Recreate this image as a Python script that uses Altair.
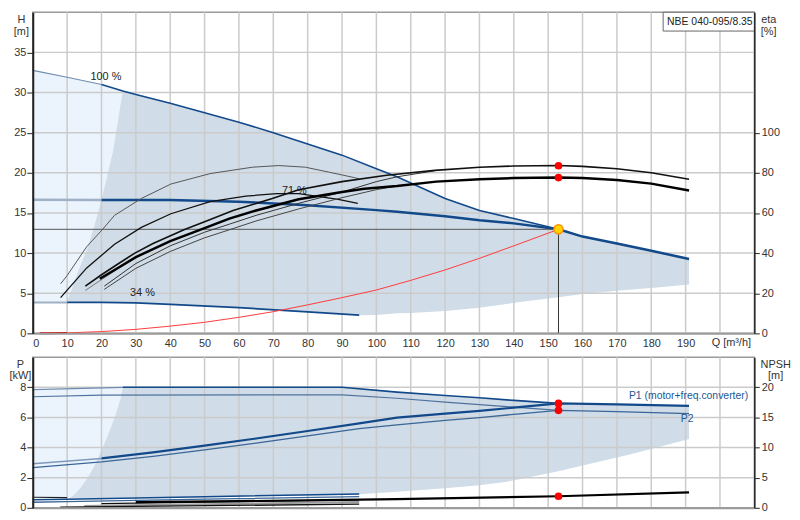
import altair as alt
import pandas as pd

FONT = "Liberation Sans"
W = 728
H_TOP = 324
H_BOT = 152

DARK_BLUE = "#12498a"
MID_BLUE = "#3a6698"
LIGHT_LINE = "#9fb1c6"
GRID = "#cbcbcb"
GRAY_FILL = "#d0dce7"
LIGHT_FILL = "#ebf4fd"

# ---------------- top chart: head H [m] ----------------
Q100_LIGHT = [0, 10, 20]
H100_LIGHT = [32.75, 31.9, 31.0]
Q100 = [20, 26.2, 30, 40, 60, 70, 80, 90, 100, 106, 120, 130, 140, 153]
H100 = [31.0, 30.2, 29.75, 28.65, 26.3, 25.0, 23.6, 22.2, 20.5, 19.5, 16.8, 15.3, 14.3, 12.96]
Q_END = [153, 160, 170, 180, 191]
H_END = [12.96, 12.05, 11.2, 10.3, 9.26]
Q71_LIGHT = [0, 20]
H71_LIGHT = [16.65, 16.6]
Q71 = [20, 40, 60, 80, 100, 106, 120, 130, 140, 153]
H71 = [16.6, 16.6, 16.4, 15.96, 15.35, 15.15, 14.6, 14.1, 13.7, 12.96]
Q34_LIGHT = [0, 10]
H34_LIGHT = [3.85, 3.85]
Q34 = [10, 20, 30, 40, 60, 80, 95]
H34 = [3.85, 3.85, 3.8, 3.6, 3.2, 2.67, 2.26]

# operating range regions
LB_Q = [0, 10, 20, 26.2]
LB_TOP = [32.75, 31.9, 31.0, 30.2]
LB_BOT = [3.85, 3.85, 3.85, 3.85]
REG_Q = [9.8, 11, 13, 15.7, 18, 20, 23.4, 26.2, 30, 40, 50, 60, 70, 80, 90, 95,
         100, 106, 110, 120, 130, 140, 153, 160, 170, 180, 191]
REG_TOP = [3.85, 5.05, 7.5, 10.4, 13.5, 16.6, 22.75, 30.2, 29.75, 28.65, 27.5, 26.3, 25.0,
           23.6, 22.2, 21.35, 20.5, 19.5, 18.7, 16.8, 15.3, 14.3, 12.96, 12.05, 11.2, 10.3, 9.26]
REG_BOT = [3.85, 3.85, 3.85, 3.85, 3.85, 3.85, 3.85, 3.85, 3.8, 3.6, 3.4, 3.2, 2.95,
           2.67, 2.45, 2.26, 2.3, 2.5, 2.55, 2.8, 3.2, 3.8, 4.5, 4.9, 5.3, 5.65, 6.1]

# system curve
QSYS_A = [2, 5, 10]
HSYS_A = [0.0, 0.02, 0.06]
QSYS = [10, 20, 30, 40, 50, 60, 70, 80, 90, 100, 110, 120, 130, 140, 153]
HSYS = [0.06, 0.22, 0.5, 0.9, 1.38, 2.0, 2.7, 3.55, 4.45, 5.4, 6.6, 7.9, 9.35, 10.9, 12.96]

DUTY_Q = 153
DUTY_H = 12.96

# efficiency curves, eta [%]
QA = [8.1, 10, 15.7, 20.2, 23.8, 31.6, 40.2, 51.6, 64, 71.6, 79.3, 86, 93.6, 95]
EA = [24.7, 28.8, 43.2, 51.6, 58.8, 67.2, 74.4, 79.6, 82.8, 83.6, 82.8, 80.4, 77.6, 77.0]
QB = [8.1, 15.7, 23.8, 31.6, 40.2, 51.6, 62, 71, 77.4, 88.9, 94.6]
EB = [17.8, 32.6, 44.4, 52.8, 59.6, 65.6, 68.4, 69.6, 69.6, 66.8, 64.8]
QC = [15.3, 20, 25, 29.7, 35, 44, 50, 58.3, 69.7, 77.4, 90, 103, 117, 130, 140, 153, 160, 170, 180, 191]
EC = [23.5, 29.2, 34.8, 40.0, 44.8, 51.6, 55.6, 61.2, 67.2, 71.6, 75.6, 78.8, 81.2, 82.8, 83.4,
      83.6, 83.2, 82.0, 80.0, 76.8]
QD = [19.5, 25, 30, 40, 50, 57.2, 65, 77.4, 90, 96.5, 106, 117.4, 130, 140, 153, 160, 170, 180, 191]
ED = [27.2, 32.8, 38.0, 46.0, 52.4, 57.2, 61.2, 66.8, 70.4, 72.0, 73.4, 75.6, 76.8, 77.4, 77.6,
      77.4, 76.4, 74.6, 71.2]
QE = [15.3, 19.5, 25, 30]
EE = [21.4, 26.2, 32.4, 37.8]
QF = [20.8, 30, 40, 50, 57.2, 65, 77.4, 90, 100, 106, 117]
EF = [23.5, 34.8, 43.6, 50.4, 54.4, 58.8, 64.8, 70.4, 75.6, 78.0, 81.0]
QG = [20.8, 30, 40, 50, 57.2, 65, 77.4, 90, 100, 106]
EG = [21.9, 32.4, 40.8, 47.6, 51.6, 56.0, 62.0, 67.6, 71.6, 73.4]
ETA_DOTS = [83.5, 77.6]

SPEED_LABELS = ["100 %", "71 %", "34 %"]
SPEED_Q = [16.8, 72.5, 28.3]
SPEED_H = [31.9, 17.7, 5.0]

# ---------------- bottom chart: P [kW] and NPSH [m] ----------------
P1MAX_LQ = [0, 26.2]
P1MAX_L = [7.85, 8.0]
P1MAX_Q = [26.2, 90, 106, 120, 130, 140, 153]
P1MAX = [8.0, 8.0, 7.68, 7.45, 7.3, 7.13, 6.93]
P2MAX_Q = [0, 20, 90, 106, 120, 130, 140, 153]
P2MAX = [7.37, 7.48, 7.5, 7.27, 7.02, 6.85, 6.68, 6.47]
P1_LQ = [0, 20]
P1_L = [2.93, 3.28]
P1_Q = [20, 35, 50, 65, 80, 95, 106, 120, 130, 140, 153, 170, 191]
P1 = [3.28, 3.68, 4.13, 4.6, 5.1, 5.6, 5.99, 6.25, 6.43, 6.65, 6.93, 6.86, 6.77]
P2_Q = [0, 20, 35, 50, 65, 80, 95, 106, 120, 130, 140, 153, 170, 191]
P2 = [2.67, 3.05, 3.42, 3.85, 4.3, 4.78, 5.25, 5.51, 5.8, 5.99, 6.2, 6.47, 6.38, 6.25]
P1_34Q = [0, 10, 50, 95]
P1_34 = [0.53, 0.57, 0.74, 0.92]
P2_34Q = [0, 10, 50, 95]
P2_34 = [0.37, 0.41, 0.57, 0.74]
PMIN_LQ = [0, 10]
PMIN_L = [0.7, 0.68]

BLB_Q = [0, 26.2]
BLB_TOP = [7.85, 8.0]
BLB_BOT = [0.7, 0.67]
BREG_Q = [10.5, 12, 14, 16, 18, 20, 22, 24, 25.5, 26.2, 40, 60, 90, 95, 106, 120, 130, 138,
          153, 160, 172.5, 180, 191]
BREG_TOP = [0.6, 0.85, 1.35, 2.0, 2.8, 3.8, 4.9, 6.1, 7.2, 8.0, 8.0, 8.0, 8.0, 7.9, 7.68,
            7.45, 7.3, 7.17, 6.93, 6.9, 6.85, 6.82, 6.77]
BREG_BOT = [0.6, 0.61, 0.62, 0.63, 0.64, 0.65, 0.65, 0.66, 0.66, 0.67, 0.7, 0.76, 0.85, 0.9,
            1.07, 1.3, 1.5, 1.73, 2.43, 2.8, 3.48, 3.9, 4.57]
P_DOTS = [6.93, 6.47]

N100_Q = [30, 60, 95, 106, 153, 191]
N100 = [0.95, 1.1, 1.35, 1.45, 1.92, 2.57]
NA_Q = [8, 95]
NA = [0.1, 0.6]
NB_Q = [15, 95]
NB = [0.3, 0.95]
NC_Q = [20, 95]
NC = [0.7, 1.3]
NPSH_DOT = [1.92]

P_LABELS = ["P1 (motor+freq.converter)", "P2"]
P_LABEL_Q = [173.5, 188.6]
P_LABEL_P = [7.41, 5.9]

PRODUCT = "NBE 040-095/8.35"
Q_TITLE = "Q [m³/h]"

TICK_Q = list(range(0, 201, 10))
GRID_Q = list(range(10, 201, 10))
GRID_H = [5, 10, 15, 20, 25, 30, 35]
GRID_P = [2, 4, 6, 8]

# ---------------- encodings ----------------
XS = alt.Scale(domain=[0, 210], nice=False, zero=False)
AX_XT = alt.Axis(values=TICK_Q, labelExpr="datum.value >= 200 ? '' : datum.label",
                 grid=False, ticks=False, labelPadding=4, domainColor="#9a9a9a",
                 domainWidth=2, title=None, zindex=1)
AX_XB = alt.Axis(values=TICK_Q, labels=False, grid=False, ticks=False,
                 domainColor="#9a9a9a", domainWidth=2, title=None, zindex=1)


def side_axis(values, title, title_x, orient="left"):
    return alt.Axis(values=values, grid=False, title=title, titleAngle=0, titleAlign="center",
                    titleBaseline="top", titleX=title_x, titleY=1, titleLineHeight=12,
                    tickSize=6 if orient == "left" else 5, tickColor="#222",
                    labelPadding=1 if orient == "left" else 2, domainColor="#222",
                    domainWidth=2 if orient == "left" else 1.5, orient=orient, zindex=1)


AX_H = side_axis([0, 5, 10, 15, 20, 25, 30, 35], ["H", "[m]"], -12)
AX_ETA = side_axis([0, 20, 40, 60, 80, 100], ["eta", "[%]"], 14, "right")
AX_P = side_axis([0, 2, 4, 6, 8], ["P", "[kW]"], -13)
AX_N = side_axis([0, 5, 10, 15, 20], ["NPSH", "[m]"], 21, "right")

XT = alt.X("Q:Q", scale=XS, axis=AX_XT)
XB = alt.X("Q:Q", scale=XS, axis=AX_XB)
YH = alt.Y("H:Q", scale=alt.Scale(domain=[0, 40], nice=False), axis=AX_H)
YE = alt.Y("eta:Q", scale=alt.Scale(domain=[0, 160], nice=False), axis=AX_ETA)
YP = alt.Y("P:Q", scale=alt.Scale(domain=[0, 10], nice=False), axis=AX_P)
YN = alt.Y("NPSH:Q", scale=alt.Scale(domain=[0, 25], nice=False), axis=AX_N)


def line(q, v, field, x, y, color, width):
    d = pd.DataFrame({"Q": q, field: v})
    return alt.Chart(d).mark_line(color=color, strokeWidth=width).encode(x=x, y=y)


def band(q, top, bot, field, x, y, color):
    d = pd.DataFrame({"Q": q, field: top, field + "2": bot})
    return alt.Chart(d).mark_area(color=color, opacity=1).encode(
        x=x, y=y, y2=alt.Y2(field + "2:Q"))


def vgrid(x):
    return alt.Chart(pd.DataFrame({"Q": GRID_Q})).mark_rule(
        color=GRID, strokeWidth=1.5).encode(x=x)


def hgrid(vals, field, y):
    return alt.Chart(pd.DataFrame({field: vals})).mark_rule(
        color=GRID, strokeWidth=1.5).encode(y=y)


def dots(q, v, field, x, y):
    d = pd.DataFrame({"Q": q, field: v})
    return alt.Chart(d).mark_circle(color="#ff0000", size=60, opacity=1).encode(x=x, y=y)


# ---------------- top chart ----------------
h_layers = [
    band(LB_Q, LB_TOP, LB_BOT, "H", XT, YH, LIGHT_FILL),
    band(REG_Q, REG_TOP, REG_BOT, "H", XT, YH, GRAY_FILL),
    vgrid(XT),
    hgrid(GRID_H, "H", YH),
    line(Q100_LIGHT, H100_LIGHT, "H", XT, YH, "#6f8db0", 1.2),
    line(Q100, H100, "H", XT, YH, DARK_BLUE, 1.6),
    line(Q71_LIGHT, H71_LIGHT, "H", XT, YH, LIGHT_LINE, 2.5),
    line(Q71, H71, "H", XT, YH, DARK_BLUE, 2.5),
    line(Q_END, H_END, "H", XT, YH, DARK_BLUE, 2.6),
    line(Q34_LIGHT, H34_LIGHT, "H", XT, YH, LIGHT_LINE, 2),
    line(Q34, H34, "H", XT, YH, DARK_BLUE, 1.8),
    line(QSYS_A, HSYS_A, "H", XT, YH, "#d00000", 2),
    line(QSYS, HSYS, "H", XT, YH, "#ff3b3b", 1),
    alt.Chart(pd.DataFrame({"Q": [0], "Q2": [DUTY_Q], "H": [DUTY_H]})).mark_rule(
        color="#555555", strokeWidth=1).encode(x=XT, x2="Q2:Q", y=YH),
    alt.Chart(pd.DataFrame({"Q": [DUTY_Q], "H": [0], "H2": [DUTY_H]})).mark_rule(
        color="#333333", strokeWidth=1).encode(x=XT, y=YH, y2="H2:Q"),
    alt.Chart(pd.DataFrame({"Q": [DUTY_Q], "H": [DUTY_H]})).mark_point(
        shape="circle", filled=True, fill="#ffd400", stroke="#ff9000", strokeWidth=1.5,
        size=85, opacity=1).encode(x=XT, y=YH),
    alt.Chart(pd.DataFrame({"Q": SPEED_Q, "H": SPEED_H, "t": SPEED_LABELS})).mark_text(
        align="left", baseline="middle", font=FONT, fontSize=11, color="#222").encode(
        x=XT, y=YH, text="t:N"),
    alt.Chart(pd.DataFrame({"Q": [203.3], "t": [Q_TITLE]})).mark_text(
        align="center", baseline="middle", font=FONT, fontSize=11, color="#333").encode(
        x=XT, y=alt.value(H_TOP + 10), text="t:N"),
    alt.Chart(pd.DataFrame({"t": [PRODUCT]})).mark_rect(
        fill="white", stroke="#666666", strokeWidth=1).encode(
        x=alt.value(W - 92), x2=alt.value(W), y=alt.value(0), y2=alt.value(19)),
    alt.Chart(pd.DataFrame({"t": [PRODUCT]})).mark_text(
        align="left", baseline="middle", font=FONT, fontSize=10.5, color="#222").encode(
        x=alt.value(W - 88), y=alt.value(10), text="t:N"),
]

eta_layers = [
    line(QA, EA, "eta", XT, YE, "#555555", 1),
    line(QB, EB, "eta", XT, YE, "#111111", 1.3),
    line(QE, EE, "eta", XT, YE, "#777777", 1),
    line(QG, EG, "eta", XT, YE, "#444444", 1),
    line(QF, EF, "eta", XT, YE, "#333333", 1),
    line(QC, EC, "eta", XT, YE, "#111111", 1.6),
    line(QD, ED, "eta", XT, YE, "#000000", 2.5),
    dots([DUTY_Q, DUTY_Q], ETA_DOTS, "eta", XT, YE),
]

top = alt.layer(alt.layer(*h_layers), alt.layer(*eta_layers)).resolve_scale(
    y="independent").properties(width=W, height=H_TOP)

# ---------------- bottom chart ----------------
p_layers = [
    band(BLB_Q, BLB_TOP, BLB_BOT, "P", XB, YP, LIGHT_FILL),
    band(BREG_Q, BREG_TOP, BREG_BOT, "P", XB, YP, GRAY_FILL),
    vgrid(XB),
    hgrid(GRID_P, "P", YP),
    line(P1MAX_LQ, P1MAX_L, "P", XB, YP, "#6f8db0", 1.3),
    line(P1MAX_Q, P1MAX, "P", XB, YP, DARK_BLUE, 1.6),
    line(P2MAX_Q, P2MAX, "P", XB, YP, "#4f739e", 1.2),
    line(P1_LQ, P1_L, "P", XB, YP, "#7f99b8", 1.5),
    line(P1_Q, P1, "P", XB, YP, DARK_BLUE, 2.2),
    line(P2_Q, P2, "P", XB, YP, MID_BLUE, 1.3),
    line(PMIN_LQ, PMIN_L, "P", XB, YP, "#222222", 1.2),
    line(P1_34Q, P1_34, "P", XB, YP, DARK_BLUE, 1.5),
    line(P2_34Q, P2_34, "P", XB, YP, MID_BLUE, 1.3),
    dots([DUTY_Q, DUTY_Q], P_DOTS, "P", XB, YP),
    alt.Chart(pd.DataFrame({"Q": P_LABEL_Q, "P": P_LABEL_P, "t": P_LABELS})).mark_text(
        align="left", baseline="middle", font=FONT, fontSize=10.5, color="#1d5796").encode(
        x=XB, y=YP, text="t:N"),
]

n_layers = [
    line(NB_Q, NB, "NPSH", XB, YN, "#9a9a9a", 2),
    line(NA_Q, NA, "NPSH", XB, YN, "#111111", 1.3),
    line(NC_Q, NC, "NPSH", XB, YN, "#111111", 1.3),
    line(N100_Q, N100, "NPSH", XB, YN, "#000000", 2.2),
    dots([DUTY_Q], NPSH_DOT, "NPSH", XB, YN),
]

bottom = alt.layer(alt.layer(*p_layers), alt.layer(*n_layers)).resolve_scale(
    y="independent").properties(width=W, height=H_BOT)

chart = alt.vconcat(top, bottom, spacing=6).properties(
    padding={"left": 0, "right": 0, "top": 0, "bottom": 0}
).configure(font=FONT).configure_view(
    stroke="#9a9a9a", strokeWidth=1.5
).configure_axis(
    labelFont=FONT, titleFont=FONT, labelFontSize=11, titleFontSize=11,
    labelColor="#333333", titleColor="#333333", titleFontWeight="normal"
)

chart.save("out.html", embed_options={"renderer": "svg", "actions": False})
